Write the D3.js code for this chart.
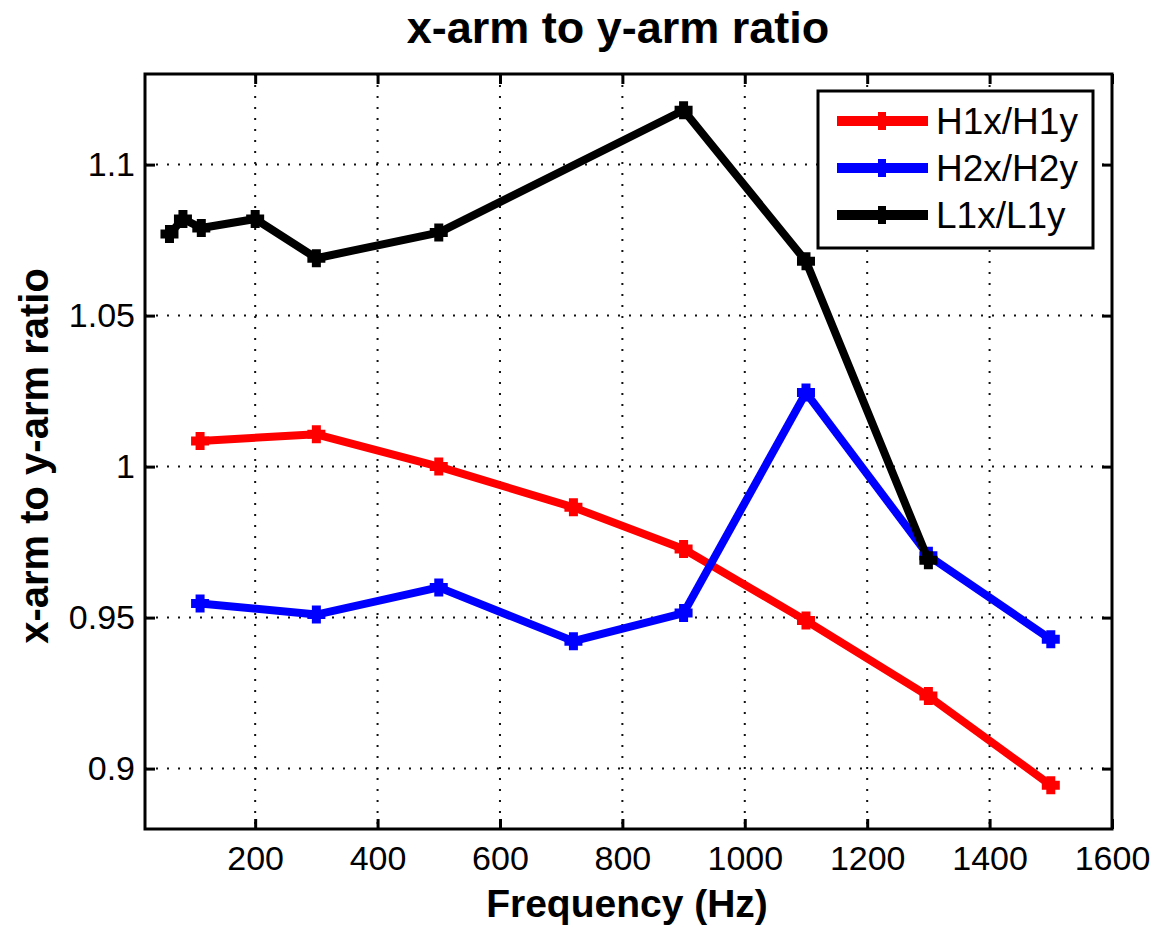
<!DOCTYPE html>
<html>
<head>
<meta charset="utf-8">
<script src="https://cdn.jsdelivr.net/npm/d3@7"></script>
<style>
  html, body { margin: 0; padding: 0; background: #fff; }
  svg { display: block; }
  text { font-family: "Liberation Sans", Arial, Helvetica, sans-serif; fill: #000; }
</style>
</head>
<body>
<svg id="chart" width="1160" height="927"></svg>
<script>
// Frequencies (Hz) for the L1 measurements
const freqL1 = [60, 82, 112, 200, 300, 500, 900, 1100, 1300];
const ratioL1 = [1.077, 1.082, 1.079, 1.082, 1.069, 1.0775, 1.118, 1.068, 0.969];

// Frequencies (Hz) shared by the H1 and H2 measurements
const freqH = [110, 300, 500, 720, 900, 1100, 1300, 1500];
const ratioH1 = [1.0085, 1.0107, 1.0, 0.9865, 0.9727, 0.949, 0.924, 0.8945];
const ratioH2 = [0.9547, 0.951, 0.96, 0.9422, 0.9515, 1.0245, 0.9705, 0.9428];

const seriesNames = ["H1x/H1y", "H2x/H2y", "L1x/L1y"];
const seriesColors = ["#ff0000", "#0000ff", "#000000"];

const xTicks = [200, 400, 600, 800, 1000, 1200, 1400, 1600];
const yTicks = [0.9, 0.95, 1.0, 1.05, 1.1];
const yTickLabels = ["0.9", "0.95", "1", "1.05", "1.1"];

const titleText = "x-arm to y-arm ratio";
const xLabelText = "Frequency (Hz)";
const yLabelText = "x-arm to y-arm ratio";

const series = [
  { name: seriesNames[0], color: seriesColors[0], x: freqH, y: ratioH1 },
  { name: seriesNames[1], color: seriesColors[1], x: freqH, y: ratioH2 },
  { name: seriesNames[2], color: seriesColors[2], x: freqL1, y: ratioL1 }
];

const svg = d3.select("#chart");
const plot = { left: 145, right: 1112, top: 74, bottom: 829 };

const x = d3.scaleLinear().domain([20, 1600]).range([plot.left, plot.right]);
const y = d3.scaleLinear().domain([0.88, 1.13]).range([plot.bottom, plot.top]);

// dotted grid
const grid = svg.append("g");
grid.selectAll("line.gx").data(xTicks.filter(t => t < 1600)).join("line")
  .attr("class", "gx")
  .attr("x1", d => x(d)).attr("x2", d => x(d))
  .attr("y1", plot.top).attr("y2", plot.bottom)
  .attr("stroke", "#111").attr("stroke-width", 2)
  .attr("stroke-dasharray", "2,9");
grid.selectAll("line.gy").data(yTicks).join("line")
  .attr("class", "gy")
  .attr("x1", plot.left).attr("x2", plot.right)
  .attr("y1", d => y(d)).attr("y2", d => y(d))
  .attr("stroke", "#111").attr("stroke-width", 2)
  .attr("stroke-dasharray", "2,9");

// axes (ticks pointing inward on every side)
const tickLen = 10;
const fmtY = d => yTickLabels[yTicks.indexOf(d)];
const axB = svg.append("g").attr("transform", `translate(0,${plot.bottom})`)
  .call(d3.axisBottom(x).tickValues(xTicks).tickSizeInner(-tickLen).tickSizeOuter(0).tickPadding(17).tickFormat(d3.format("d")));
const axT = svg.append("g").attr("transform", `translate(0,${plot.top})`)
  .call(d3.axisTop(x).tickValues(xTicks).tickSizeInner(-tickLen).tickSizeOuter(0).tickFormat(""));
const axL = svg.append("g").attr("transform", `translate(${plot.left},0)`)
  .call(d3.axisLeft(y).tickValues(yTicks).tickSizeInner(-tickLen).tickSizeOuter(0).tickPadding(10).tickFormat(fmtY));
const axR = svg.append("g").attr("transform", `translate(${plot.right},0)`)
  .call(d3.axisRight(y).tickValues(yTicks).tickSizeInner(-tickLen).tickSizeOuter(0).tickFormat(""));

[axB, axT, axL, axR].forEach(a => {
  a.select(".domain").remove();
  a.selectAll(".tick line").attr("stroke", "#000").attr("stroke-width", 3);
  a.selectAll(".tick text").attr("font-size", 34).attr("fill", "#000")
    .attr("font-family", "'Liberation Sans', Arial, sans-serif");
});
axB.selectAll(".tick text").attr("dy", "0.71em");

// box
svg.append("rect")
  .attr("x", plot.left).attr("y", plot.top)
  .attr("width", plot.right - plot.left).attr("height", plot.bottom - plot.top)
  .attr("fill", "none").attr("stroke", "#000").attr("stroke-width", 3);

// plus marker path
const plus = s => `M${-s},0H${s}M0,${-s}V${s}`;

const line = d3.line().x(d => x(d[0])).y(d => y(d[1]));
series.forEach(s => {
  const pts = s.x.map((f, i) => [f, s.y[i]]);
  const g = svg.append("g");
  g.append("path").datum(pts)
    .attr("d", line)
    .attr("fill", "none").attr("stroke", s.color)
    .attr("stroke-width", 8).attr("stroke-linejoin", "round");
  g.selectAll("path.m").data(pts).join("path")
    .attr("class", "m")
    .attr("transform", d => `translate(${x(d[0])},${y(d[1])})`)
    .attr("d", plus(9))
    .attr("stroke", s.color).attr("stroke-width", 9).attr("fill", "none");
});

// legend
const lg = svg.append("g");
lg.append("rect").attr("x", 818).attr("y", 91).attr("width", 275).attr("height", 157)
  .attr("fill", "#fff").attr("stroke", "#000").attr("stroke-width", 3);
series.forEach((s, i) => {
  const cy = 121 + i * 47;
  lg.append("line").attr("x1", 837).attr("x2", 928).attr("y1", cy).attr("y2", cy)
    .attr("stroke", s.color).attr("stroke-width", 10);
  lg.append("path").attr("transform", `translate(882,${cy})`).attr("d", plus(9))
    .attr("stroke", s.color).attr("stroke-width", 8);
  lg.append("text").attr("x", 936).attr("y", cy).attr("dy", "0.36em")
    .attr("font-size", 37).text(s.name);
});

// titles
svg.append("text").attr("x", 618).attr("y", 43)
  .attr("text-anchor", "middle").attr("font-size", 45).attr("font-weight", "bold")
  .text(titleText);
svg.append("text").attr("x", 627).attr("y", 917)
  .attr("text-anchor", "middle").attr("font-size", 39).attr("font-weight", "bold")
  .text(xLabelText);
svg.append("text").attr("transform", `translate(48,456) rotate(-90)`)
  .attr("text-anchor", "middle").attr("font-size", 40).attr("font-weight", "bold")
  .text(yLabelText);
</script>
</body>
</html>
